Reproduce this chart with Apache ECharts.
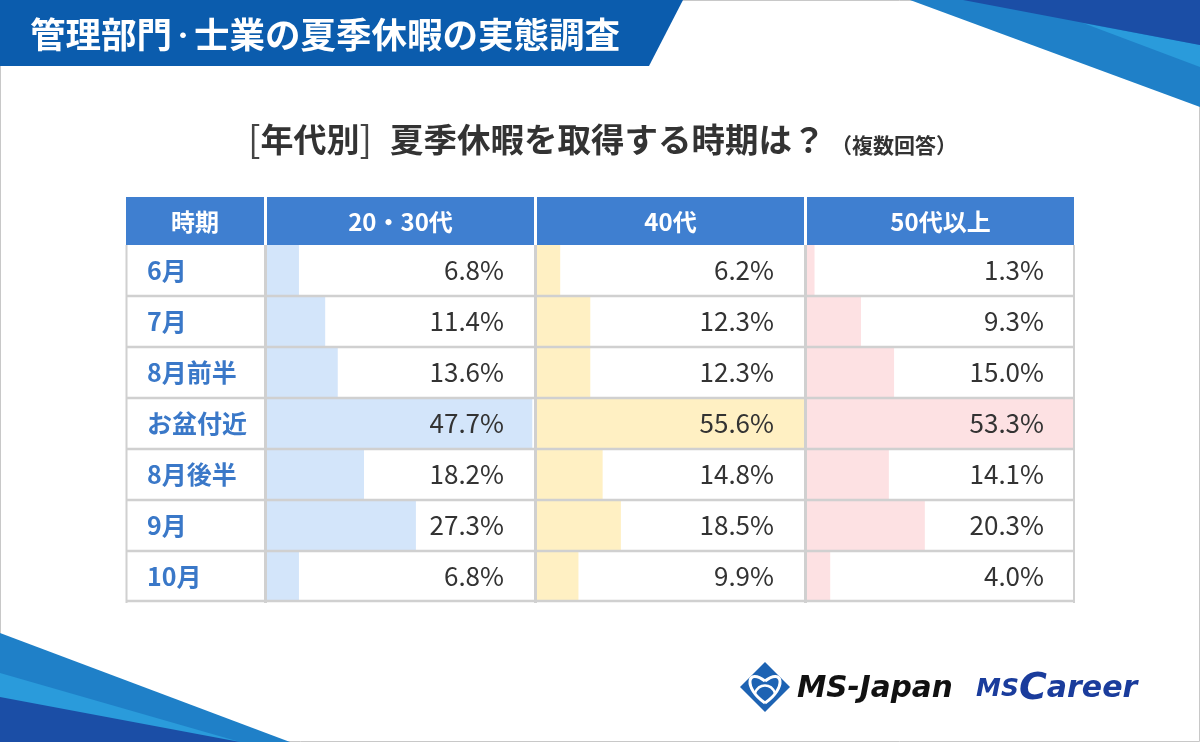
<!DOCTYPE html>
<html>
<head>
<meta charset="utf-8">
<script src="https://cdn.jsdelivr.net/npm/echarts@6/dist/echarts.min.js"></script>
<style>html,body{margin:0;padding:0;background:#fff;}#c{width:1200px;height:742px;}</style>
</head>
<body>
<div id="c"></div>
<script>
// ---- data ----
const bannerParts = ['管理部門', '士業の夏季休暇の実態調査'];
const chartTitle = '夏季休暇を取得する時期は？';
const titleTag = '年代別';
const titleNote = '（複数回答）';
const headerLabel = '時期';
const categories = ['6月', '7月', '8月前半', 'お盆付近', '8月後半', '9月', '10月'];
const groups = ['20・30代', '40代', '50代以上'];
const age2030 = [6.8, 11.4, 13.6, 47.7, 18.2, 27.3, 6.8];
const age40 = [6.2, 12.3, 12.3, 55.6, 14.8, 18.5, 9.9];
const age50 = [1.3, 9.3, 15.0, 53.3, 14.1, 20.3, 4.0];

// ---- layout / style ----
const values = [age2030, age40, age50];
const barColors = ['#d3e5fa', '#fff0c3', '#fde1e3'];
const axisRange = [[1.2, 48], [1.5, 55.6], [0, 46]];
const colX = [267, 537, 807];
const colW = 267;
const tableTop = 245, rowH = 51, bodyH = rowH * categories.length;
const headBlue = '#3f7fd0';
const font = '"Noto Sans CJK JP", "Noto Sans", sans-serif';
const logoFont = '"DejaVu Sans", sans-serif';

const chart = echarts.init(document.getElementById('c'), null, {renderer: 'canvas'});

const grids = [], xAxes = [], yAxes = [], series = [];
values.forEach((vals, i) => {
  grids.push({left: colX[i], top: tableTop, width: colW, height: bodyH, containLabel: false});
  xAxes.push({gridIndex: i, type: 'value', min: axisRange[i][0], max: axisRange[i][1], show: false});
  yAxes.push({
    gridIndex: i, type: 'category', data: categories, inverse: true, z: 10,
    axisLine: {show: false}, axisTick: {show: false}, splitLine: {show: false},
    axisLabel: i === 0 ? {
      show: true, interval: 0, align: 'left', margin: colX[0] - 147,
      color: '#3a78c8', fontSize: 25, fontWeight: 'bold', fontFamily: font
    } : {show: false}
  });
  yAxes.push({
    gridIndex: i, type: 'category', data: categories, inverse: true, position: 'right', z: 10,
    axisLine: {show: false}, axisTick: {show: false}, splitLine: {show: false},
    axisLabel: {
      show: true, inside: true, interval: 0, margin: 30,
      color: '#333333', fontSize: 26, fontFamily: font,
      formatter: (v, idx) => vals[idx].toFixed(1) + '%'
    }
  });
  series.push({
    type: 'bar', xAxisIndex: i, yAxisIndex: i * 2, data: vals,
    barWidth: '100%', barCategoryGap: '0%', clip: true, silent: true,
    itemStyle: {color: barColors[i]}, z: 2
  });
});

const g = [];
// page border
g.push({type: 'rect', z: 1, shape: {x: 0.5, y: 0.5, width: 1199, height: 741}, style: {fill: 'none', stroke: '#c8c8c8', lineWidth: 1}});
// top banner
g.push({type: 'polygon', z: 1, shape: {points: [[0, 0], [683, 0], [649, 66], [0, 66]]}, style: {fill: '#0b5cad'}});
g.push({type: 'text', z: 5, style: {
  text: '{t|' + bannerParts[0] + '}{d|・}{t|' + bannerParts[1] + '}', x: 30, y: 35, align: 'left', verticalAlign: 'middle',
  rich: {
    t: {fill: '#fff', fontSize: 35.5, fontWeight: 'bold', fontFamily: font},
    d: {fill: '#fff', fontSize: 22, fontWeight: 'bold', fontFamily: font}
  }
}});
// top-right stripes
g.push({type: 'polygon', z: 1, shape: {points: [[910, 0], [1200, 0], [1200, 107]]}, style: {fill: '#1f80c8'}});
g.push({type: 'polygon', z: 1, shape: {points: [[1083, 23], [1200, 45], [1200, 67]]}, style: {fill: '#2a9bdb'}});
g.push({type: 'polygon', z: 1, shape: {points: [[963, 0], [1200, 0], [1200, 45]]}, style: {fill: '#1b4ea6'}});
// bottom-left stripes
g.push({type: 'polygon', z: 1, shape: {points: [[0, 633], [290, 742], [0, 742]]}, style: {fill: '#1f80c8'}});
g.push({type: 'polygon', z: 1, shape: {points: [[0, 673], [240, 742], [0, 742]]}, style: {fill: '#2a9bdb'}});
g.push({type: 'polygon', z: 1, shape: {points: [[0, 697], [240, 742], [0, 742]]}, style: {fill: '#1b4ea6'}});
// subtitle
g.push({type: 'text', z: 5, style: {
  text: '{b|[}{t|' + titleTag + '}{b|]}{s|' + chartTitle + '}',
  x: 248, y: 139, align: 'left', verticalAlign: 'middle',
  rich: {
    b: {fontSize: 37, fontWeight: 'normal', fill: '#444', fontFamily: font},
    t: {fontSize: 33, fontWeight: 'bold', fill: '#333', fontFamily: font},
    s: {fontSize: 33.5, fontWeight: 'bold', fill: '#333', fontFamily: font, padding: [0, 0, 0, 18]}
  }
}});
g.push({type: 'text', z: 5, style: {text: titleNote, x: 957, y: 145, align: 'right', verticalAlign: 'middle', fill: '#333', fontSize: 21, fontWeight: 'bold', fontFamily: font}});
// header row
const headCells = [[126, 138, headerLabel]].concat(groups.map((gname, i) => [colX[i], colW, gname]));
headCells.forEach(c => {
  g.push({type: 'rect', z: 1, shape: {x: c[0], y: 197, width: c[1], height: 48}, style: {fill: headBlue}});
  g.push({type: 'text', z: 5, style: {text: c[2], x: c[0] + c[1] / 2, y: 222, align: 'center', verticalAlign: 'middle', fill: '#fff', fontSize: 24, fontWeight: 'bold', fontFamily: font}});
});
// table grid lines
const lineStyle = {stroke: '#d0d0d0', lineWidth: 2.5};
for (let k = 1; k <= categories.length; k++) {
  const y = tableTop + rowH * k - (k === categories.length ? 1 : 0);
  g.push({type: 'line', z: 50, shape: {x1: 126, y1: y, x2: 1075, y2: y}, style: lineStyle});
}
[[126.5, 2], [265.5, 3], [535.5, 3], [805.5, 3], [1074, 2]].forEach(v => {
  g.push({type: 'line', z: 50, shape: {x1: v[0], y1: tableTop, x2: v[0], y2: tableTop + bodyH + 1}, style: {stroke: '#d0d0d0', lineWidth: v[1]}});
});
// logos
g.push({type: 'polygon', z: 5, shape: {points: [[765, 662], [790, 687], [765, 712], [740, 687]]}, style: {fill: '#1d63b3'}});
const heartStroke = {fill: 'none', stroke: '#fff', lineWidth: 3};
g.push({type: 'bezierCurve', z: 6, shape: {x1: 765, y1: 703, cpx1: 743, cpy1: 688, cpx2: 747, cpy2: 667, x2: 765, y2: 681}, style: heartStroke});
g.push({type: 'bezierCurve', z: 6, shape: {x1: 765, y1: 703, cpx1: 787, cpy1: 688, cpx2: 783, cpy2: 667, x2: 765, y2: 681}, style: heartStroke});
g.push({type: 'bezierCurve', z: 6, shape: {x1: 755, y1: 693, cpx1: 759, cpy1: 683, cpx2: 771, cpy2: 683, x2: 775, y2: 693}, style: {fill: 'none', stroke: '#fff', lineWidth: 2.5}});
g.push({type: 'text', z: 5, style: {text: 'MS-Japan', x: 797, y: 689, align: 'left', verticalAlign: 'middle', fill: '#111', fontSize: 29.5, fontWeight: 'bold', fontStyle: 'italic', fontFamily: logoFont}});
g.push({type: 'text', z: 5, style: {
  text: '{m|MS}{c|C}{a|areer}', x: 976, y: 689, align: 'left', verticalAlign: 'middle',
  rich: {
    m: {fontSize: 25, fontWeight: 'bold', fontStyle: 'italic', fill: '#1a3c9c', fontFamily: logoFont},
    c: {fontSize: 38, fontWeight: 'bold', fontStyle: 'italic', fill: '#1a3c9c', fontFamily: logoFont},
    a: {fontSize: 30, fontWeight: 'bold', fontStyle: 'italic', fill: '#1a3c9c', fontFamily: logoFont}
  }
}});

chart.setOption({
  animation: false,
  backgroundColor: '#ffffff',
  grid: grids,
  xAxis: xAxes,
  yAxis: yAxes,
  series: series,
  graphic: {elements: g}
});
</script>
</body>
</html>
